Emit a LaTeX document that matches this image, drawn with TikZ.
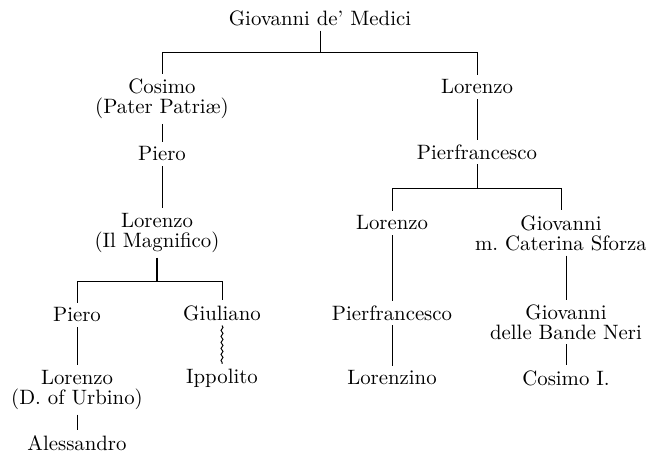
\documentclass[tikz,border=0pt]{standalone}
\usetikzlibrary{decorations.pathmorphing}

\begin{document}
\begin{tikzpicture}[x=0.5pt, y=-0.5pt, line width=0.5pt,
			person/.style = {inner sep=0pt, outer sep=2.5pt, align=center, font=\fontsize{10.4}{10}\selectfont},
			wavy/.style = {decorate, decoration={snake, amplitude=0.5pt, segment length=3pt}}]
			\useasboundingbox (0,0) rectangle (646,454);
			\node[person] (1) at (320,18) {Giovanni de' Medici};
			\node[person] (2) at (162,99) {Cosimo\\(Pater Patriæ)};
			\node[person] (3) at (477,87) {Lorenzo};
			\node[person] (4) at (162,154) {Piero};
			\node[person] (5) at (477,152) {Pierfrancesco};
			\node[person] (6) at (157,233) {Lorenzo\\(Il Magnifico)};
			\node[person] (7) at (392,223) {Lorenzo};
			\node[person] (8) at (561,233) {Giovanni\\m.\ Caterina Sforza};
			\node[person] (9) at (77,315) {Piero};
			\node[person] (10) at (222,313) {Giuliano};
			\node[person] (11) at (392,313) {Pierfrancesco};
			\node[person] (12) at (566,322) {Giovanni\\delle Bande Neri};
			\node[person] (13) at (77,390) {Lorenzo\\(D.\ of Urbino)};
			\node[person] (14) at (222,378) {Ippolito};
			\node[person] (15) at (392,378) {Lorenzino};
			\node[person] (16) at (566,378) {Cosimo I.};
			\node[person] (17) at (77,443) {Alessandro};
			\coordinate (b1) at (320,53);
			\coordinate (b2) at (477,188);
			\coordinate (b3) at (157,281);
			\draw (1) -- (b1) -| (2);
			\draw (b1) -| (3);
			\draw (2) -- (4);
			\draw (3) -- (5);
			\draw (4) -- (4 |- 6.north);
			\draw[line width=1.2pt] (6) -- (b3);
			\draw (b3) -| (9);
			\draw (b3) -| (10);
			\draw (5) -- (b2);
			\draw (b2) -| (7);
			\draw (b2) -| (8);
			\draw (9) -- (13);
			\draw (13) -- (17);
			\draw[wavy] (10) -- (14);
			\draw (7) -- (11);
			\draw (11) -- (15);
			\draw (12 |- 8.south) -- (12);
			\draw (12) -- (16);
		\end{tikzpicture}
\end{document}
